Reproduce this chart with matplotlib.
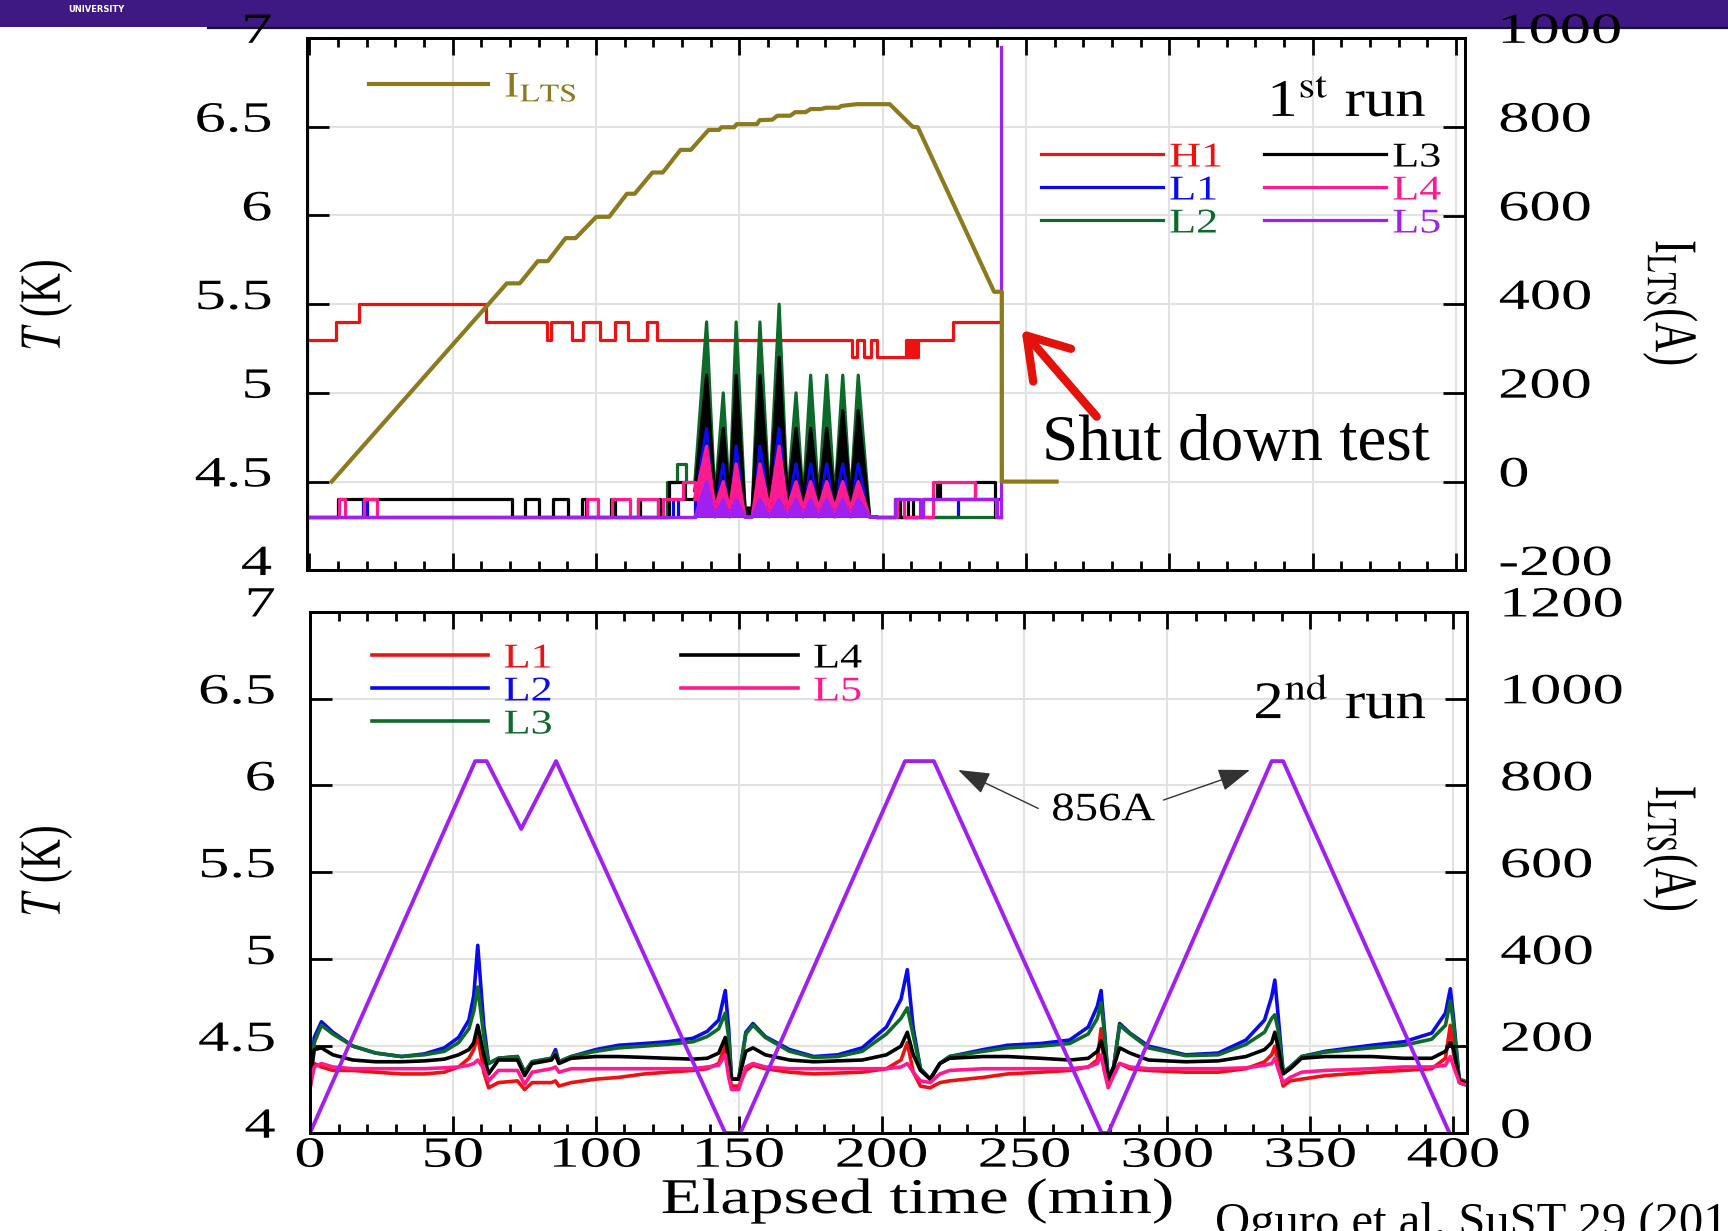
import matplotlib
matplotlib.use("Agg")
import matplotlib.pyplot as plt
from matplotlib.patheffects import AbstractPathEffect
from matplotlib.transforms import Affine2D, ScaledTranslation
from matplotlib.lines import Line2D
from matplotlib.patches import Rectangle

plt.rcParams['font.family'] = ['Liberation Serif', 'DejaVu Serif']
plt.rcParams['mathtext.fontset'] = 'stix'

W, H, DPI = 1728, 1231, 100

# ======================= DATA =======================
# ---- 1st run (top panel) ----
run1_I_time = [7.8, 68.9, 73.4, 79.7, 83.2, 89.4, 92.9, 100.1, 104.6, 110.8,
               113.5, 119.7, 123.3, 129.5, 133.1, 139.3, 142.9, 143.8, 148.2, 149.1,
               156.2, 157.1, 161.5, 163.3, 167.8, 169.5, 173.1, 174.9, 178.4, 180.2,
               184.7, 185.6, 190.9, 202.5, 210.5, 212.3, 238.9, 241.6, 241.6, 260.7]
run1_I_amp = [0, 447, 447, 497, 497, 549, 549, 597, 597, 649,
              649, 697, 697, 748, 748, 793, 793, 799, 799, 806,
              806, 815, 816, 825, 825, 833, 833, 840, 840, 843,
              843, 847, 851, 851, 800, 799, 428, 428, 0, 0]

run1_H1_time = [0, 9.3, 17.4, 61.6, 82.8, 84.2, 91.5, 95.4, 101.4, 106.6,
                111.3, 117.7, 121.2, 189.2, 191.0, 193.5, 196.0, 198.0, 208.3, 209.0,
                209.7, 210.4, 211.1, 211.8, 212.5, 213.5, 224.5, 241.2]
run1_H1_temp = [5.3, 5.4, 5.5, 5.4, 5.3, 5.4, 5.3, 5.4, 5.3, 5.4,
                5.3, 5.4, 5.3, 5.2, 5.3, 5.2, 5.3, 5.2, 5.3, 5.2,
                5.3, 5.2, 5.3, 5.2, 5.3, 5.3, 5.4, 5.4]

# step parts before / after the spike period
run1_L1_pre_time = [0, 18.8, 20.0, 127.0, 128.7, 134.5]
run1_L1_pre_temp = [4.3, 4.4, 4.3, 4.4, 4.3, 4.4]
run1_L1_post_time = [197.9, 226.4, 241.3]
run1_L1_post_temp = [4.3, 4.4, 4.4]

run1_L2_pre_time = [0, 124.7, 128.2, 131.4, 134.5]
run1_L2_pre_temp = [4.3, 4.5, 4.6, 4.5, 4.5]
run1_L2_post_time = [197.9, 241.3]
run1_L2_post_temp = [4.3, 4.3]

run1_L3_pre_time = [0, 10.1, 70.6, 75.2, 80.2, 85.1, 90.4, 95.0, 96.5, 105.3,
                    106.5, 114.5, 115.5, 121.5, 122.5, 125.5, 131.0, 134.5]
run1_L3_pre_temp = [4.3, 4.4, 4.3, 4.4, 4.3, 4.4, 4.3, 4.4, 4.3, 4.4,
                    4.3, 4.4, 4.3, 4.4, 4.3, 4.5, 4.4, 4.45]
run1_L3_post_time = [197.9, 204.5, 206.0, 209.0, 210.5, 214.0, 219.0, 220.0, 232.2, 239.2, 241.3]
run1_L3_post_temp = [4.3, 4.4, 4.3, 4.4, 4.3, 4.4, 4.5, 4.4, 4.5, 4.3, 4.3]

run1_L4_pre_time = [0, 10.5, 12.5, 19.0, 23.5, 96.8, 100.8, 105.5, 111.9, 114.8,
                    121.8, 123.5, 130.5, 134.5]
run1_L4_pre_temp = [4.3, 4.4, 4.3, 4.4, 4.3, 4.4, 4.3, 4.4, 4.3, 4.4,
                    4.3, 4.4, 4.5, 4.4]
run1_L4_post_time = [197.9, 205.0, 207.3, 217.7, 232.2, 239.5, 241.3]
run1_L4_post_temp = [4.3, 4.4, 4.3, 4.5, 4.4, 4.3, 4.3]

run1_L5_pre_time = [0, 134.5]
run1_L5_pre_temp = [4.3, 4.3]
run1_L5_post_time = [197.9, 204.3, 213.0, 214.2, 239.8, 241.3, 241.3]
run1_L5_post_temp = [4.3, 4.4, 4.3, 4.4, 4.3, 4.3, 6.95]

# spike period (shared time vertices)
run1_spike_time = [134.5, 138.6, 141.5, 144.4, 146.6, 148.9, 152.0, 154.5, 157.2, 160.5,
                   163.9, 166.8, 169.8, 172.3, 174.9, 177.7, 180.5, 183.3, 186.1, 188.8,
                   191.5, 195.5, 197.9]
run1_L1_spike = [4.4, 4.8, 4.35, 4.6, 4.35, 4.7, 4.3, 4.3, 4.7, 4.35,
                 4.8, 4.35, 4.6, 4.35, 4.6, 4.35, 4.6, 4.35, 4.6, 4.35,
                 4.6, 4.3, 4.3]
run1_L2_spike = [4.5, 5.4, 4.4, 5.0, 4.4, 5.4, 4.35, 4.35, 5.4, 4.4,
                 5.5, 4.4, 5.0, 4.4, 5.1, 4.4, 5.1, 4.4, 5.1, 4.4,
                 5.1, 4.3, 4.3]
run1_L3_spike = [4.45, 5.1, 4.4, 4.8, 4.4, 5.1, 4.35, 4.35, 5.1, 4.4,
                 5.2, 4.4, 4.8, 4.4, 4.8, 4.4, 4.8, 4.4, 4.9, 4.4,
                 4.9, 4.3, 4.3]
run1_L4_spike = [4.4, 4.7, 4.35, 4.5, 4.35, 4.6, 4.3, 4.3, 4.6, 4.35,
                 4.7, 4.35, 4.5, 4.35, 4.5, 4.35, 4.5, 4.35, 4.5, 4.35,
                 4.5, 4.3, 4.3]
run1_L5_spike = [4.3, 4.5, 4.3, 4.4, 4.3, 4.4, 4.3, 4.3, 4.4, 4.3,
                 4.4, 4.3, 4.4, 4.3, 4.4, 4.3, 4.4, 4.3, 4.4, 4.3,
                 4.4, 4.3, 4.3]

# ---- 2nd run (bottom panel) ----
run2_I_time = [0, 57.8, 61.8, 73.9, 86.1, 145.3, 150.6, 208.2, 218.3, 277.0, 279.3, 336.5, 340.5, 398.7]
run2_I_amp = [0, 856, 856, 700, 856, 0, 0, 856, 856, 0, 0, 856, 856, 0]

run2_time = [0, 1.5, 4, 8, 15, 23, 32, 40, 47, 52,
             55.6, 57.3, 58.7, 60.8, 62.5, 65.9, 72.6, 75.1, 77.7, 84.5,
             85.9, 87.1, 91.4, 100, 108, 117, 125, 134, 139, 143,
             145.3, 146.5, 147.5, 150, 152.5, 155, 159.3, 167.8, 176.3, 184.7,
             193.2, 201.7, 206.8, 209, 211.1, 213.6, 217, 220.4, 223.8, 235.6,
             244.1, 255.7, 265.8, 272.3, 275.5, 276.8, 278, 279.3, 281.2, 283.3,
             286.9, 293.4, 306.4, 317.8, 327.5, 334, 336.5, 337.6, 338.9, 340.5,
             343, 347, 355.2, 371.4, 382.7, 392.5, 397.3, 399, 400.2, 402.2,
             404]
run2_L1 = [4.25, 4.40, 4.38, 4.36, 4.36, 4.35, 4.34, 4.34, 4.35, 4.38,
           4.43, 4.48, 4.56, 4.35, 4.26, 4.29, 4.30, 4.25, 4.29, 4.29,
           4.30, 4.27, 4.29, 4.31, 4.32, 4.34, 4.35, 4.36, 4.37, 4.40,
           4.50, 4.35, 4.27, 4.27, 4.36, 4.39, 4.37, 4.35, 4.34, 4.345,
           4.35, 4.37, 4.42, 4.52, 4.35, 4.27, 4.26, 4.29, 4.30, 4.32,
           4.34, 4.35, 4.36, 4.38, 4.42, 4.60, 4.36, 4.28, 4.35, 4.40,
           4.37, 4.36, 4.35, 4.35, 4.37, 4.41, 4.45, 4.50, 4.38, 4.27,
           4.30, 4.31, 4.33, 4.35, 4.36, 4.37, 4.43, 4.62, 4.45, 4.31,
           4.30]
run2_L2 = [4.30, 4.55, 4.64, 4.58, 4.50, 4.46, 4.44, 4.455, 4.49, 4.55,
           4.65, 4.79, 5.08, 4.62, 4.40, 4.43, 4.44, 4.35, 4.41, 4.43,
           4.48, 4.41, 4.44, 4.48, 4.505, 4.515, 4.525, 4.545, 4.585, 4.65,
           4.82, 4.60, 4.31, 4.31, 4.58, 4.63, 4.555, 4.48, 4.44, 4.45,
           4.49, 4.61, 4.77, 4.94, 4.60, 4.37, 4.31, 4.40, 4.44, 4.48,
           4.505, 4.515, 4.535, 4.61, 4.73, 4.82, 4.59, 4.31, 4.38, 4.63,
           4.575, 4.50, 4.45, 4.46, 4.535, 4.65, 4.785, 4.88, 4.65, 4.35,
           4.38, 4.44, 4.47, 4.505, 4.525, 4.575, 4.69, 4.83, 4.65, 4.29,
           4.28]
run2_L3 = [4.28, 4.52, 4.62, 4.57, 4.50, 4.46, 4.44, 4.45, 4.47, 4.52,
           4.60, 4.70, 4.84, 4.56, 4.40, 4.43, 4.44, 4.35, 4.41, 4.43,
           4.46, 4.41, 4.44, 4.47, 4.49, 4.50, 4.51, 4.525, 4.555, 4.60,
           4.69, 4.55, 4.31, 4.31, 4.57, 4.62, 4.55, 4.47, 4.435, 4.44,
           4.47, 4.57, 4.66, 4.72, 4.56, 4.37, 4.31, 4.40, 4.44, 4.47,
           4.49, 4.50, 4.515, 4.57, 4.66, 4.75, 4.57, 4.31, 4.38, 4.62,
           4.57, 4.49, 4.445, 4.45, 4.51, 4.58, 4.66, 4.68, 4.58, 4.35,
           4.38, 4.44, 4.465, 4.49, 4.505, 4.54, 4.62, 4.76, 4.62, 4.29,
           4.28]
run2_L4 = [4.30, 4.48, 4.49, 4.45, 4.42, 4.41, 4.41, 4.415, 4.425, 4.45,
           4.48, 4.52, 4.62, 4.45, 4.34, 4.42, 4.42, 4.33, 4.40, 4.42,
           4.45, 4.40, 4.43, 4.44, 4.44, 4.435, 4.43, 4.425, 4.43, 4.46,
           4.55, 4.42, 4.31, 4.31, 4.47, 4.49, 4.45, 4.42, 4.41, 4.415,
           4.42, 4.45, 4.50, 4.58, 4.45, 4.36, 4.31, 4.40, 4.43, 4.44,
           4.44, 4.43, 4.42, 4.43, 4.47, 4.53, 4.45, 4.31, 4.38, 4.49,
           4.46, 4.42, 4.41, 4.415, 4.44, 4.48, 4.52, 4.58, 4.48, 4.34,
           4.37, 4.43, 4.44, 4.44, 4.43, 4.43, 4.47, 4.52, 4.48, 4.30,
           4.29]
run2_L5 = [4.28, 4.38, 4.40, 4.38, 4.37, 4.37, 4.37, 4.37, 4.375, 4.38,
           4.39, 4.40, 4.42, 4.37, 4.30, 4.36, 4.36, 4.28, 4.35, 4.37,
           4.38, 4.35, 4.37, 4.37, 4.37, 4.37, 4.37, 4.37, 4.38, 4.39,
           4.45, 4.32, 4.25, 4.25, 4.38, 4.40, 4.38, 4.37, 4.37, 4.37,
           4.37, 4.37, 4.38, 4.40, 4.35, 4.30, 4.29, 4.34, 4.36, 4.37,
           4.37, 4.37, 4.37, 4.38, 4.40, 4.45, 4.35, 4.26, 4.33, 4.40,
           4.38, 4.37, 4.37, 4.37, 4.375, 4.39, 4.40, 4.43, 4.36, 4.29,
           4.32, 4.35, 4.36, 4.37, 4.38, 4.38, 4.39, 4.44, 4.38, 4.29,
           4.28]

# axis ticks / labels
x_major = [0, 50, 100, 150, 200, 250, 300, 350, 400]
x_labels = ['0', '50', '100', '150', '200', '250', '300', '350', '400']
T_ticks = [4, 4.5, 5, 5.5, 6, 6.5, 7]
T_labels = ['4', '4.5', '5', '5.5', '6', '6.5', '7']
I1_ticks = [-200, 0, 200, 400, 600, 800, 1000]
I1_labels = ['-200', '0', '200', '400', '600', '800', '1000']
I2_ticks = [0, 200, 400, 600, 800, 1000, 1200]
I2_labels = ['0', '200', '400', '600', '800', '1000', '1200']

# ======================= STYLE =======================
C_RED, C_BLUE, C_GREEN = '#EE1111', '#0A0AEE', '#0E6A2A'
C_BLACK, C_PINK, C_PURPLE = '#000000', '#FF1A90', '#A020F0'
C_OLIVE = '#8B7A1E'


class HStretch(AbstractPathEffect):
    """Horizontally widen text glyphs (the reference figure is stretched)."""
    def __init__(self, sx=1.4, anchor='center'):
        super().__init__((0, 0))
        self.sx = sx
        self.anchor = anchor

    def draw_path(self, renderer, gc, tpath, affine, rgbFace=None):
        ext = tpath.get_extents(affine)
        if self.anchor == 'left':
            x0 = ext.x0
        elif self.anchor == 'right':
            x0 = ext.x1
        else:
            x0 = 0.5 * (ext.x0 + ext.x1)
        aff = affine + Affine2D().translate(-x0, 0).scale(self.sx, 1.0).translate(x0, 0)
        renderer.draw_path(gc, tpath, aff, rgbFace)


TICK_FS, TICK_SX = 31, 1.45
LEG_FS, LEG_SX = 25, 1.27

fig = plt.figure(figsize=(W / DPI, H / DPI), dpi=DPI)


def px_axes(l, t, r, b):
    return fig.add_axes([l / W, 1 - b / H, (r - l) / W, (b - t) / H])


# header band of the slide
fig.patches.append(Rectangle((0, 1 - 27 / H), 1, 27 / H, transform=fig.transFigure,
                             facecolor='#3E1883', edgecolor='none', zorder=-5))
fig.lines.append(Line2D([208 / W, 1], [1 - 27.5 / H, 1 - 27.5 / H], transform=fig.transFigure,
                        color='#15152a', lw=1.6, zorder=-4))
fig.text(68 / W, 1 - 10 / H, 'UNIVERSITY', color='white', fontsize=6, fontweight='bold',
         family='DejaVu Sans', va='center', ha='left')

ax1 = px_axes(306.5, 38.1, 1465, 570.3)
ax2 = ax1.twinx()
ax3 = px_axes(310, 611.7, 1466.6, 1133)
ax4 = ax3.twinx()

# ---------------- top panel ----------------
ax1.set_xlim(-1.0, 403.2)
ax1.set_ylim(4, 7)
ax2.set_ylim(-200, 1000)

lw_t = 2.3
hH1, = ax1.plot(run1_H1_time, run1_H1_temp, drawstyle='steps-post', color=C_RED, lw=lw_t)
series1 = [
    ('L1', C_BLUE, run1_L1_pre_time, run1_L1_pre_temp, run1_L1_spike, run1_L1_post_time, run1_L1_post_temp),
    ('L2', C_GREEN, run1_L2_pre_time, run1_L2_pre_temp, run1_L2_spike, run1_L2_post_time, run1_L2_post_temp),
    ('L3', C_BLACK, run1_L3_pre_time, run1_L3_pre_temp, run1_L3_spike, run1_L3_post_time, run1_L3_post_temp),
    ('L4', C_PINK, run1_L4_pre_time, run1_L4_pre_temp, run1_L4_spike, run1_L4_post_time, run1_L4_post_temp),
    ('L5', C_PURPLE, run1_L5_pre_time, run1_L5_pre_temp, run1_L5_spike, run1_L5_post_time, run1_L5_post_temp),
]
handles1 = {'H1': hH1}
for name, col, pt, pT, spk, qt, qT in series1:
    h, = ax1.plot(pt, pT, drawstyle='steps-post', color=col, lw=lw_t)
    ax1.fill_between(run1_spike_time, 4.3, spk, color=col, lw=0)
    ax1.plot(run1_spike_time, spk, color=col, lw=lw_t)
    ax1.plot(qt, qT, drawstyle='steps-post', color=col, lw=lw_t)
    handles1[name] = h

hI1, = ax2.plot(run1_I_time, run1_I_amp, color=C_OLIVE, lw=3.0)

# ---------------- bottom panel ----------------
ax3.set_xlim(0, 404.7)
ax3.set_ylim(4, 7)
ax4.set_ylim(0, 1200)
lw_b = 2.6
handles2 = []
for name, col, vals in [('L1', C_RED, run2_L1), ('L2', C_BLUE, run2_L2), ('L3', C_GREEN, run2_L3),
                        ('L4', C_BLACK, run2_L4), ('L5', C_PINK, run2_L5)]:
    h, = ax3.plot(run2_time, vals, color=col, lw=lw_b, label=name)
    handles2.append(h)
ax4.plot(run2_I_time, run2_I_amp, color=C_PURPLE, lw=2.8)

# ---------------- axes styling ----------------
minor = [v for v in range(0, 410, 10) if v % 50]
for ax, tw, right_ticks, right_labels in [(ax1, ax2, I1_ticks, I1_labels), (ax3, ax4, I2_ticks, I2_labels)]:
    ax.set_xticks(x_major)
    ax.set_xticks(minor, minor=True)
    ax.set_yticks(T_ticks, labels=T_labels)
    tw.set_yticks(right_ticks, labels=right_labels)
    ax.grid(True, which='major', color='#E2E2E2', lw=1.5)
    ax.set_axisbelow(True)
    ax.tick_params(axis='x', which='major', direction='in', length=12, width=2, top=True, bottom=True)
    ax.tick_params(axis='x', which='minor', direction='in', length=6.5, width=2, top=True, bottom=True)
    ax.tick_params(axis='y', which='major', direction='in', length=16, width=2, left=True, right=False,
                   pad=25, labelsize=TICK_FS)
    tw.tick_params(axis='y', which='major', direction='in', length=16, width=2, right=True,
                   pad=24.5, labelsize=TICK_FS)
    for a in (ax, tw):
        for s in a.spines.values():
            s.set_linewidth(2)

ax1.tick_params(axis='x', labelbottom=False)
ax3.set_xticks(x_major, labels=x_labels)
ax3.tick_params(axis='x', which='major', labelsize=TICK_FS, pad=3)

raise_tr = ScaledTranslation(0, 10 / DPI, fig.dpi_scale_trans)
for ax in (ax1, ax3):
    for tk in ax.yaxis.get_major_ticks():
        tk.label1.set_path_effects([HStretch(TICK_SX, 'right')])
        tk.label1.set_transform(tk.label1.get_transform() + raise_tr)
for tw in (ax2, ax4):
    for tk in tw.yaxis.get_major_ticks():
        tk.label2.set_path_effects([HStretch(TICK_SX, 'left')])
        tk.label2.set_transform(tk.label2.get_transform() + raise_tr)
for tk in ax3.xaxis.get_major_ticks():
    tk.label1.set_path_effects([HStretch(TICK_SX, 'center')])

# axis labels
for ax, y in [(ax1, 0.5), (ax3, 0.5)]:
    lab = ax.set_ylabel(r'$T$ (K)', fontsize=30, va='center', ha='center')
    lab.set_path_effects([HStretch(1.4, 'center')])
ax1.yaxis.set_label_coords(-0.2249, 0.4985)
ax3.yaxis.set_label_coords(-0.2283, 0.5026)
for tw in (ax2, ax4):
    lab = tw.set_ylabel(r'I$_{\rm LTS}$(A)', fontsize=30, rotation=270, va='center', ha='center')
    lab.set_path_effects([HStretch(1.45, 'center')])
ax2.yaxis.set_label_coords(1.177, 0.502)
ax4.yaxis.set_label_coords(1.176, 0.545)

xl = ax3.set_xlabel('Elapsed time (min)', fontsize=36, va='center')
xl.set_path_effects([HStretch(1.34, 'center')])
ax3.xaxis.set_label_coords(0.525, -0.130)

# ---------------- legends ----------------
leg1 = ax1.legend([handles1[k] for k in ['H1', 'L1', 'L2', 'L3', 'L4', 'L5']],
                  ['H1', 'L1', 'L2', 'L3', 'L4', 'L5'], ncol=2, frameon=False,
                  fontsize=LEG_FS, labelcolor='linecolor', handlelength=3.5, handletextpad=0.2,
                  columnspacing=1.5, labelspacing=0.0, borderpad=0, borderaxespad=0,
                  loc='upper left', bbox_to_anchor=(1041 / W, 1 - 141.5 / H),
                  bbox_transform=fig.transFigure)
leg2 = ax2.legend([hI1], [r'I$_{\rm LTS}$'], frameon=False, fontsize=26, labelcolor='linecolor',
                  handlelength=3.3, handletextpad=0.45, borderpad=0, borderaxespad=0,
                  loc='upper left', bbox_to_anchor=(369 / W, 1 - 71.5 / H),
                  bbox_transform=fig.transFigure)
leg3 = ax3.legend(handles2, ['L1', 'L2', 'L3', 'L4', 'L5'], ncol=2, frameon=False,
                  fontsize=LEG_FS, labelcolor='linecolor', handlelength=3.35, handletextpad=0.45,
                  columnspacing=4.0, labelspacing=0.0, borderpad=0, borderaxespad=0,
                  loc='upper left', bbox_to_anchor=(372 / W, 1 - 642.5 / H),
                  bbox_transform=fig.transFigure)
for lg in (leg1, leg2, leg3):
    for t in lg.get_texts():
        t.set_path_effects([HStretch(LEG_SX, 'left')])

# ---------------- annotations ----------------
t1 = ax1.text(0.967, 0.8536, r'1$^{\rm st}$ run', transform=ax1.transAxes, ha='right',
              va='baseline', fontsize=38)
t1.set_path_effects([HStretch(1.15, 'right')])
t2 = ax3.text(0.9658, 0.795, r'2$^{\rm nd}$ run', transform=ax3.transAxes, ha='right',
              va='baseline', fontsize=38)
t2.set_path_effects([HStretch(1.15, 'right')])

ax1.text(255.5, 4.622, 'Shut down test', fontsize=47, ha='left', va='baseline')
ax1.annotate('', xy=(248.5, 5.355), xytext=(274.7, 4.866),
             arrowprops=dict(arrowstyle='->,head_length=0.7,head_width=0.45', color='#E3120B',
                             lw=6, mutation_scale=40, capstyle='round', joinstyle='round',
                             shrinkA=0, shrinkB=0))

t856 = ax3.text(277.6, 5.80, '856A', fontsize=29, ha='center', va='baseline')
t856.set_path_effects([HStretch(1.16, 'center')])
for tip, tail in [((226.8, 6.089), (254.8, 5.868)), ((328.9, 6.089), (298.6, 5.916))]:
    ax3.annotate('', xy=tip, xytext=tail,
                 arrowprops=dict(arrowstyle='-|>,head_length=0.9,head_width=0.32', color='#333333',
                                 lw=1.0, mutation_scale=22, shrinkA=0, shrinkB=0))

fig.text(1215 / W, 1 - 1202 / H, 'Oguro et al. SuST 29 (2016)', fontsize=35, ha='left', va='top')

fig.savefig('out.png', dpi=DPI)
